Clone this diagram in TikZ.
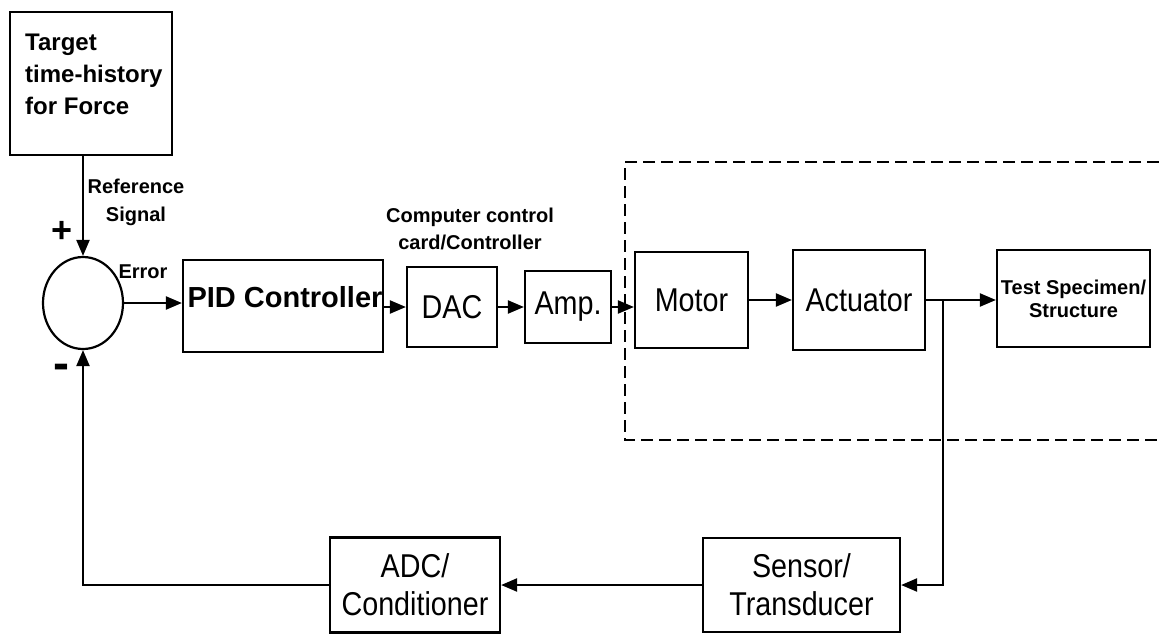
\documentclass[tikz,border=0pt]{standalone}
\usepackage{fontspec}
\setmainfont{Liberation Sans}
\newfontfamily\boxfont[FakeStretch=0.87]{Liberation Sans}
\usetikzlibrary{positioning,calc,shapes.geometric,arrows.meta}

\begin{document}
\begin{tikzpicture}[x=1pt,y=-1pt]
	\tikzset{
		blk/.style={rectangle, draw, line width=2.2pt, inner sep=0pt,
			font=\boxfont\fontsize{33}{38}\selectfont, align=center},
		sumnode/.style={ellipse, draw, line width=2.2pt, inner sep=0pt,
			minimum width=80pt, minimum height=92pt},
		sig/.style={-{Triangle[length=16pt,width=13pt]}, line width=2.2pt},
		dashline/.style={line width=2.4pt, dash pattern=on 12pt off 6pt},
		lab/.style={font=\bfseries\fontsize{20}{27}\selectfont, align=center, inner sep=0pt}
	}
	\useasboundingbox (0,0) rectangle (1159,633);

	% reference input
	\node[blk, minimum width=162pt, minimum height=143pt] (target) at (91,83.5) {};
	\node[anchor=north west, align=left, inner sep=0pt,
		font=\bfseries\fontsize{24}{32}\selectfont] (targettxt) at (25,34)
		{Target\\time-history\\for Force};
	\node[lab, font=\bfseries\fontsize{20}{28}\selectfont] (lbref) at (136,202) {Reference\\Signal};

	% summing junction
	\node[sumnode] (sum) at (83,303) {};
	\node[font=\bfseries\fontsize{36}{36}\selectfont, inner sep=0pt] (lbplus) at (62,232) {+};
	\node[font=\bfseries\fontsize{48}{48}\selectfont, inner sep=0pt] (lbminus) at (61,372) {-};
	\node[lab] (lberr) at (143,272) {Error};

	% forward path
	\node[blk, minimum width=200pt, minimum height=92pt,
		label={[font=\bfseries\fontsize{29}{29}\selectfont, xshift=2pt, yshift=9pt]center:PID Controller}] (pid) at (283,306) {};
	\node[blk, minimum width=90pt, minimum height=80pt] (dac) at (452,307) {DAC};
	\node[blk, minimum width=86pt, minimum height=72pt] (amp) at (568,307) {Amp.};
	\node[lab] (lbcomp) at (470,228.5) {Computer control\\card/Controller};

	% plant
	\draw[dashline] (1159,162) -- (625,162) -- (625,440) -- (1159,440);
	\node[blk, minimum width=113pt, minimum height=96pt] (motor) at (691.5,300) {Motor};
	\node[blk, minimum width=132pt, minimum height=100pt] (actuator) at (859,300) {Actuator};
	\node[blk, minimum width=153pt, minimum height=97pt,
		font=\bfseries\fontsize{20}{23}\selectfont] (test) at (1073.5,298.5) {Test Specimen/\\Structure};

	% feedback path
	\node[blk, minimum width=197pt, minimum height=94pt] (sensor) at (801.5,585) {Sensor/\\Transducer};
	\node[blk, minimum width=170pt, minimum height=95pt] (adc) at (415,585) {ADC/\\Conditioner};

	\draw[sig] (target.south -| sum.north) -- (sum.north);
	\draw[sig] (sum.east) -- (sum.east -| pid.west);
	\draw[sig] (pid.east |- dac.west) -- (dac.west);
	\draw[sig] (dac.east) -- (amp.west);
	\draw[sig] (amp.east) -- (amp.east -| motor.west);
	\draw[sig] (motor.east) -- (actuator.west);
	\draw[sig] (actuator.east) -- (actuator.east -| test.west);
	\coordinate (tap) at ($(actuator.east)+(17,0)$);
	\draw[sig] (tap) |- (sensor.east);
	\draw[sig] (sensor.west) -- (sensor.west -| adc.east);
	\draw[sig] (adc.west) -| (sum.south);
\end{tikzpicture}
\end{document}
